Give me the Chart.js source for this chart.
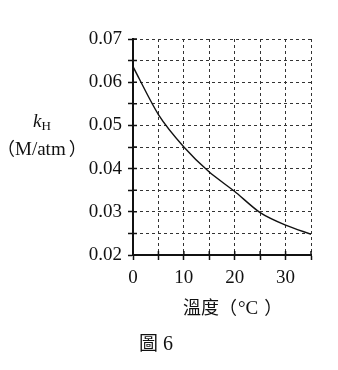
<!DOCTYPE html>
<html><head><meta charset="utf-8">
<script src="https://cdn.jsdelivr.net/npm/chart.js@4/dist/chart.umd.min.js"></script>
<style>
html,body{margin:0;padding:0;background:#fff;}
#wrap{position:relative;width:338px;height:370px;}
canvas{position:absolute;left:0;top:0;}
.t{position:absolute;color:#111;white-space:nowrap;line-height:1;}
.serif{font-family:"Liberation Serif","Times New Roman",serif;}
.cjk{font-family:"Noto Sans CJK TC","Noto Sans CJK SC",sans-serif;}
</style></head>
<body><div id="wrap">
<canvas id="c" width="338" height="370"></canvas>
<div class="t serif" style="left:33px;top:111px;font-size:19px;"><i>k</i><span style="font-size:13px;position:relative;top:3px;">H</span></div>
<div class="t" style="left:-3px;top:138px;font-size:18px;"><span class="cjk">（</span><span class="serif" style="font-size:19px;">M/atm</span><span class="cjk" style="margin-left:3px;">）</span></div>
<div class="t" style="left:183px;top:297px;font-size:18px;"><span class="cjk">溫度（</span><span class="serif" style="font-size:19px;margin-left:1px;">°C</span><span class="cjk" style="margin-left:6px;">）</span></div>
<div class="t" style="left:139px;top:332px;font-size:19px;"><span class="cjk">圖</span><span class="serif" style="font-size:20px;"> 6</span></div>
</div>
<script>
const temps = [0, 5, 10, 15, 20, 25, 30, 35];
const kH = [0.0636, 0.0525, 0.0450, 0.0392, 0.0347, 0.0298, 0.0269, 0.0248];
const xTickLabels = [0, 10, 20, 30];
const yTickLabels = [0.02, 0.03, 0.04, 0.05, 0.06, 0.07];

const points = temps.map((t, i) => ({x: t, y: kH[i]}));
const near = (v, arr) => arr.find(a => Math.abs(a - v) < 1e-6);

// draws short solid tick marks crossing into the plot area
const crossTicks = {
  id: 'crossTicks',
  afterDraw(chart) {
    const {ctx, chartArea: a, scales: {x, y}} = chart;
    ctx.save();
    ctx.strokeStyle = '#111';
    ctx.lineWidth = 1.5;
    ctx.beginPath();
    x.ticks.forEach(t => { const px = x.getPixelForValue(t.value); ctx.moveTo(px, a.bottom); ctx.lineTo(px, a.bottom - 4); });
    y.ticks.forEach(t => { const py = y.getPixelForValue(t.value); ctx.moveTo(a.left, py); ctx.lineTo(a.left + 4, py); });
    ctx.stroke();
    ctx.restore();
  }
};

new Chart(document.getElementById('c'), {
  type: 'line',
  data: {datasets: [{data: points, borderColor: '#111', borderWidth: 1.4, pointRadius: 0, tension: 0.25, fill: false}]},
  options: {
    responsive: false, animation: false,
    layout: {padding: {left: 0, top: 39, right: 27, bottom: 0}},
    plugins: {legend: {display: false}, tooltip: {enabled: false}},
    scales: {
      x: {
        type: 'linear', min: 0, max: 35,
        afterFit: s => { s.height = 115; },
        border: {color: '#111', width: 2, dash: [3, 3]},
        grid: {color: '#333', lineWidth: 1, tickLength: 5, tickColor: '#111', tickWidth: 1.5, tickBorderDash: []},
        ticks: {stepSize: 5, autoSkip: false, maxRotation: 0, padding: 7, color: '#111',
          font: {family: 'Liberation Serif', size: 19},
          callback: v => { const m = near(v, xTickLabels); return m === undefined ? '' : String(m); }}
      },
      y: {
        min: 0.02, max: 0.07,
        afterFit: s => { s.width = 133; },
        border: {color: '#111', width: 2, dash: [3, 3]},
        grid: {color: '#333', lineWidth: 1, tickLength: 5, tickColor: '#111', tickWidth: 1.5, tickBorderDash: []},
        ticks: {stepSize: 0.005, autoSkip: false, padding: 6, color: '#111',
          font: {family: 'Liberation Serif', size: 19},
          callback: v => { const m = near(v, yTickLabels); return m === undefined ? '' : m.toFixed(2); }}
      }
    }
  },
  plugins: [crossTicks]
});
</script>
</body></html>
